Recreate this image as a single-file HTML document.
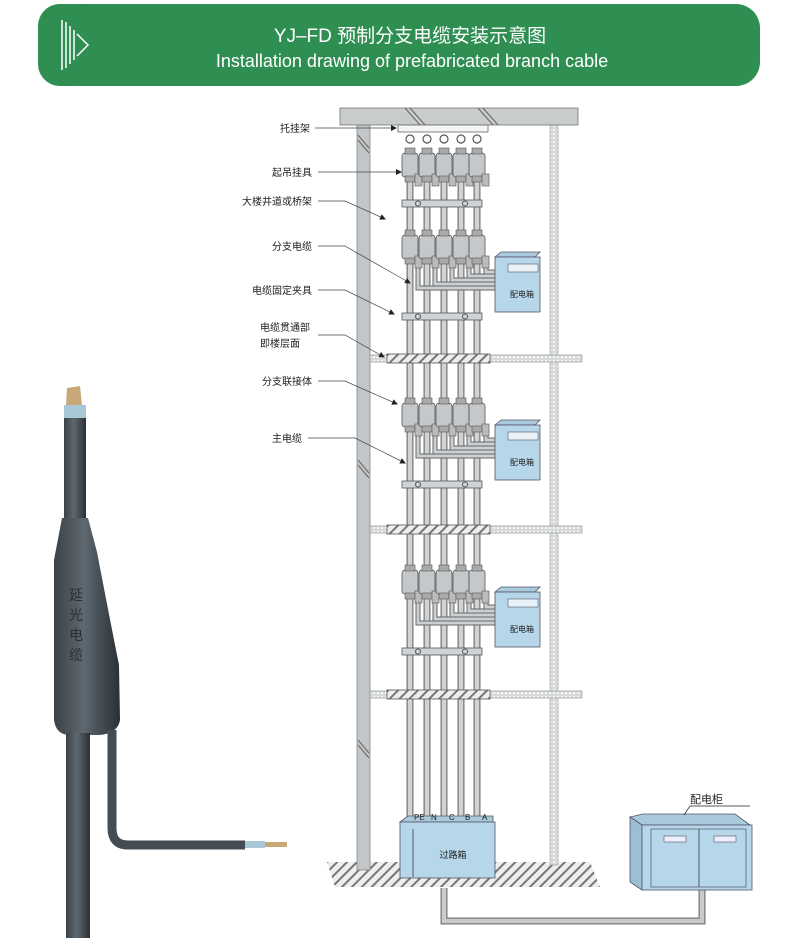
<!DOCTYPE html>
<html><head><meta charset="utf-8"><style>
body{margin:0;background:#fff;width:800px;height:945px;overflow:hidden;font-family:"Liberation Sans","Noto Sans CJK SC",sans-serif}
</style></head><body>
<svg width="800" height="945" viewBox="0 0 800 945" xmlns="http://www.w3.org/2000/svg" font-family="Liberation Sans, Noto Sans CJK SC, sans-serif">
<defs>
<marker id="ar" markerWidth="6" markerHeight="6" refX="5" refY="3" orient="auto" markerUnits="userSpaceOnUse"><path d="M0 0 L6 3 L0 6 Z" fill="#222"/></marker>
<pattern id="hat" width="7" height="7" patternUnits="userSpaceOnUse" patternTransform="rotate(45)"><rect width="7" height="7" fill="#eee"/><rect width="2" height="7" fill="#777"/></pattern>
<pattern id="dot" width="4" height="4" patternUnits="userSpaceOnUse"><rect width="4" height="4" fill="#d6dadb"/><rect x="1" y="1" width="2" height="2" fill="#f4f4f4"/></pattern>
<linearGradient id="blk" x1="0" x2="1"><stop offset="0" stop-color="#3a4248"/><stop offset=".45" stop-color="#5e6870"/><stop offset="1" stop-color="#2a3035"/></linearGradient>
<g id="joint">
<rect x="-8" y="3" width="16" height="24" rx="3" fill="#c4c8ca" stroke="#555" stroke-width="0.8"/>
<rect x="-5" y="-2" width="10" height="6" fill="#aaa" stroke="#555" stroke-width="0.6"/>
<rect x="-5" y="26" width="10" height="6" fill="#aaa" stroke="#555" stroke-width="0.6"/>
<rect x="5" y="24" width="7" height="12" fill="#bbb" stroke="#555" stroke-width="0.6"/>
</g>
<g id="sec">
<path d="M418 36 V56 H497 M435 36 V52 H497 M452 36 V48 H497 M469 36 V44 H497 M486 36 V40 H497" fill="none" stroke="#666" stroke-width="5"/>
<path d="M418 36 V56 H497 M435 36 V52 H497 M452 36 V48 H497 M469 36 V44 H497 M486 36 V40 H497" fill="none" stroke="#ccd0d2" stroke-width="3"/>
<use href="#joint" x="410"/><use href="#joint" x="427"/><use href="#joint" x="444"/><use href="#joint" x="461"/><use href="#joint" x="477"/>
<path d="M495 25 L501 20 H540 L535 25 Z" fill="#a9c9dc" stroke="#556" stroke-width="0.8"/>
<rect x="495" y="25" width="45" height="55" fill="#b6d6ea" stroke="#556" stroke-width="0.8"/>
<rect x="508" y="32" width="30" height="8" fill="#e8f2f8" stroke="#556" stroke-width="0.6"/>
<text x="522" y="65" font-size="8" text-anchor="middle" fill="#222">配电箱</text>
<rect x="402" y="81" width="80" height="7" fill="#cfd3d5" stroke="#555" stroke-width="0.8"/>
<circle cx="418" cy="84.5" r="2.5" fill="none" stroke="#555"/><circle cx="465" cy="84.5" r="2.5" fill="none" stroke="#555"/>
</g>
<g id="slab">
<rect x="370" y="0" width="212" height="7" fill="url(#dot)" stroke="#888" stroke-width="0.6"/>
<rect x="387" y="-1" width="103" height="9" fill="url(#hat)" stroke="#555" stroke-width="0.8"/>
</g>
</defs>

<!-- header -->
<rect x="56" y="4" width="704" height="82" rx="24" fill="#2f8f52"/>
<rect x="38" y="4" width="60" height="82" rx="22" fill="#2f8f52"/>
<path d="M62 20 V70 M66 22 V68 M70 26 V64 M74 30 V60" stroke="#fff" stroke-width="1.5"/>
<path d="M77 34 L88 45 L77 56" fill="none" stroke="#fff" stroke-width="1.5"/>
<text x="410" y="42" fill="#fff" font-size="19" text-anchor="middle">YJ–FD 预制分支电缆安装示意图</text>
<text x="412" y="67" fill="#fff" font-size="18" text-anchor="middle">Installation drawing of prefabricated branch cable</text>

<!-- floor -->
<path d="M327 862 H590 L600 887 H335 Z" fill="url(#hat)"/>
<!-- columns -->
<rect x="357" y="125" width="13" height="745" fill="#c2c6c8" stroke="#888" stroke-width="0.8"/>
<rect x="550" y="125" width="8" height="740" fill="url(#dot)" stroke="#999" stroke-width="0.6"/>
<path d="M358 135 L369 148 M358 140 L369 153 M358 460 L369 473 M358 465 L369 478 M358 740 L369 753 M358 745 L369 758" stroke="#666"/>
<!-- ceiling -->
<rect x="340" y="108" width="238" height="17" fill="#c8cccd" stroke="#777" stroke-width="0.8"/>
<path d="M405 108 L420 125 M410 108 L425 125 M478 108 L493 125 M483 108 L498 125" stroke="#666"/>
<rect x="398" y="125" width="90" height="7" fill="#f4f4f4" stroke="#666" stroke-width="0.8"/>

<!-- main cables -->
<g stroke="#777" stroke-width="7"><path d="M410 180 V822 M427 180 V822 M444 180 V822 M461 180 V822 M477 180 V822"/></g>
<g stroke="#cfd3d5" stroke-width="4.5"><path d="M410 180 V822 M427 180 V822 M444 180 V822 M461 180 V822 M477 180 V822"/></g>
<!-- hooks + hangers -->
<g fill="none" stroke="#555" stroke-width="1.2">
<circle cx="410" cy="139" r="4"/><circle cx="427" cy="139" r="4"/><circle cx="444" cy="139" r="4"/><circle cx="461" cy="139" r="4"/><circle cx="477" cy="139" r="4"/></g>
<use href="#joint" x="410" y="150"/><use href="#joint" x="427" y="150"/><use href="#joint" x="444" y="150"/><use href="#joint" x="461" y="150"/><use href="#joint" x="477" y="150"/>
<rect x="402" y="200" width="80" height="7" fill="#cfd3d5" stroke="#555" stroke-width="0.8"/>
<circle cx="418" cy="203.5" r="2.5" fill="none" stroke="#555"/><circle cx="465" cy="203.5" r="2.5" fill="none" stroke="#555"/>

<use href="#sec" y="232"/><use href="#sec" y="400"/><use href="#sec" y="567"/>
<use href="#slab" y="355"/><use href="#slab" y="526"/><use href="#slab" y="691"/>

<!-- pass box -->
<path d="M400 822 L408 816 H493 L493 822 Z" fill="#a9c9dc" stroke="#556" stroke-width="0.8"/>
<rect x="400" y="822" width="95" height="56" fill="#b6d6ea" stroke="#556" stroke-width="0.8"/>
<line x1="413" y1="829" x2="413" y2="877" stroke="#556"/>
<text x="453" y="858" font-size="9" text-anchor="middle" fill="#222">过路箱</text>
<g font-size="8" fill="#222"><text x="414" y="820">PE</text><text x="431" y="820">N</text><text x="449" y="820">C</text><text x="465" y="820">B</text><text x="482" y="820">A</text></g>
<!-- conduit -->
<path d="M444 888 V921 H702 V890" fill="none" stroke="#777" stroke-width="7"/>
<path d="M444 888 V921 H702 V890" fill="none" stroke="#c8cccd" stroke-width="4.5"/>
<!-- cabinet -->
<path d="M630 817 L643 814 H735 L750 825 H642 Z" fill="#a9c9dc" stroke="#556" stroke-width="0.8"/>
<path d="M630 817 L642 825 V890 L630 882 Z" fill="#9dbfd3" stroke="#556" stroke-width="0.8"/>
<rect x="642" y="825" width="110" height="65" fill="#b6d6ea" stroke="#556" stroke-width="0.8"/>
<rect x="651" y="829" width="95" height="58" fill="none" stroke="#556" stroke-width="0.7"/>
<line x1="699" y1="829" x2="699" y2="887" stroke="#556"/>
<rect x="664" y="836" width="22" height="6" fill="#eef" stroke="#556" stroke-width="0.6"/>
<rect x="714" y="836" width="22" height="6" fill="#eef" stroke="#556" stroke-width="0.6"/>
<text x="690" y="803" font-size="11" fill="#222">配电柜</text>
<line x1="690" y1="806" x2="750" y2="806" stroke="#222" stroke-width="0.7"/>
<line x1="690" y1="806" x2="684" y2="815" stroke="#222" stroke-width="0.7"/>

<!-- labels -->
<g font-size="10" fill="#222" text-anchor="end">
<text x="310" y="132">托挂架</text><text x="312" y="176">起吊挂具</text><text x="312" y="205">大楼井道或桥架</text>
<text x="312" y="250">分支电缆</text><text x="312" y="294">电缆固定夹具</text><text x="310" y="331">电缆贯通部</text>
<text x="300" y="347">即楼层面</text><text x="312" y="385">分支联接体</text><text x="302" y="442">主电缆</text></g>
<g fill="none" stroke="#444" stroke-width="0.7" marker-end="url(#ar)">
<path d="M315 128 H396"/><path d="M318 172 H401"/><path d="M318 201 H345 L385 219"/>
<path d="M318 246 H345 L410 283"/><path d="M318 290 H345 L394 314"/><path d="M318 335 H345 L384 357"/>
<path d="M318 381 H345 L397 404"/><path d="M308 438 H355 L405 463"/></g>

<!-- left cable -->
<path d="M67 388 L80 386 L82 405 L66 405 Z" fill="#c8a878"/>
<rect x="64" y="405" width="22" height="14" fill="#a8c8d8"/>
<rect x="64" y="418" width="22" height="102" fill="url(#blk)"/>
<path d="M62 518 H88 L97 552 Q110 620 119 665 L120 720 Q118 733 100 735 H70 Q56 735 54 720 V560 Z" fill="url(#blk)"/>
<g font-size="14" fill="#2a2f33" text-anchor="middle"><text x="76" y="600">延</text><text x="76" y="620">光</text><text x="76" y="640">电</text><text x="76" y="660">缆</text></g>
<rect x="66" y="733" width="24" height="205" fill="url(#blk)"/>
<path d="M112 730 V828 Q112 845 128 845 H245" fill="none" stroke="#454d54" stroke-width="9"/>
<rect x="245" y="841" width="20" height="7" fill="#a8c8d8"/>
<rect x="265" y="842" width="22" height="5" fill="#c8a878"/>
</svg>
</body></html>
